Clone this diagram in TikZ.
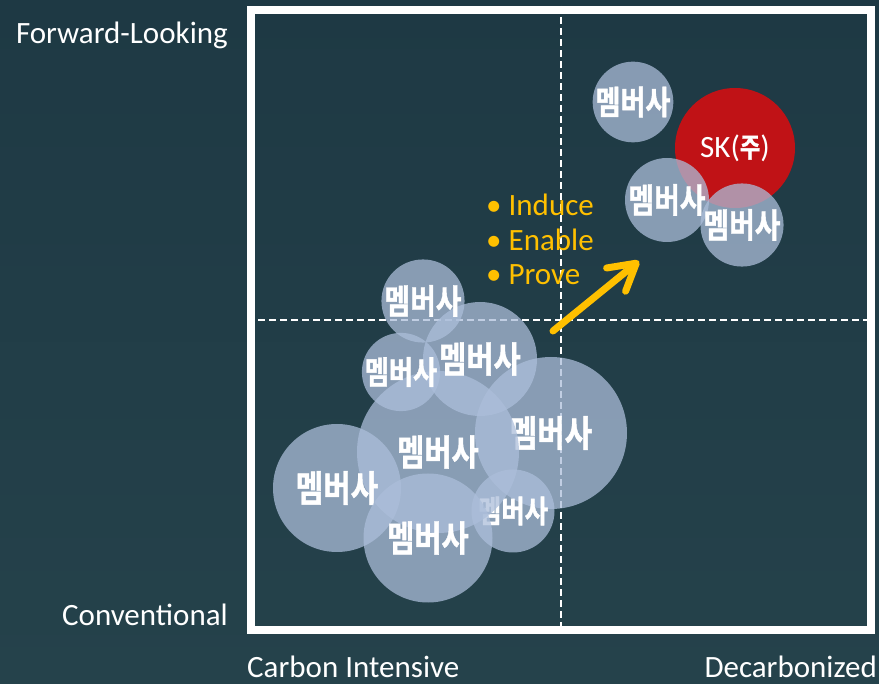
\documentclass[tikz,border=0pt]{standalone}
\usepackage{fontspec}
\setmainfont{Carlito}
\newfontfamily\krfont[FakeStretch=0.82, BoldFont={Noto Sans CJK KR Bold},
                      BoldFeatures={FakeBold=1.2}]{Noto Sans CJK KR}
\usetikzlibrary{arrows.meta}

\definecolor{bgtop}{RGB}{30,57,68}
\definecolor{bgmid}{RGB}{45,75,82}
\definecolor{bgbot}{RGB}{37,66,75}
\definecolor{bubblefill}{RGB}{172,190,218}
\definecolor{skred}{RGB}{192,18,22}
\definecolor{pptyellow}{RGB}{255,192,0}

\tikzset{member/.style 2 args = {circle, fill=bubblefill, fill opacity=0.74,
                                 text opacity=1, text=white, inner sep=0pt,
                                 minimum size=#1,
                                 font=\krfont\bfseries\fontsize{#2}{#2}\selectfont},
         axislabel/.style = {text=white, inner sep=0pt,
                             font=\fontsize{31}{31}\selectfont},
         bulletitem/.style = {text=pptyellow, inner sep=0pt, anchor=base west,
                              font=\fontsize{31}{31}\selectfont},
         quadline/.style = {white, line width=1.5pt, dash pattern=on 7pt off 4pt}
        }

\begin{document}
\begin{tikzpicture}[x=1pt, y=-1pt]
  \useasboundingbox (0,0) rectangle (879,684);
  \shade[top color=bgtop, middle color=bgmid, bottom color=bgbot] (0,0) rectangle (879,684);

  % frame and quadrants
  \node[draw=white, line width=8pt, minimum width=620pt, minimum height=620pt,
        inner sep=0pt] (frame) at (561,320) {};
  \draw[quadline] (frame.north) -- (frame.south);
  \draw[quadline] (frame.west) -- (frame.east);

  % axis labels
  \node[axislabel, anchor=base east] (fwd) at (228,44) {Forward-Looking};
  \node[axislabel, anchor=base east] (conv) at (228,625) {Conventional};
  \node[axislabel, anchor=base west] (carbon) at (247,677) {Carbon Intensive};
  \node[axislabel, anchor=base east] (decarb) at (877,677) {Decarbonized};

  % members
  \node[member={152pt}{36.5}] (m9) at (551,433) {멤버사};
  \node[member={83pt}{31}] (m12) at (513,511) {멤버사};
  \node[member={162pt}{36}] (m8) at (438,452) {멤버사};
  \node[member={114pt}{36}] (m6) at (480,359) {멤버사};
  \node[member={73pt}{32}] (m7) at (401,372) {멤버사};
  \node[member={128pt}{36.5}] (m10) at (337,488) {멤버사};
  \node[member={129pt}{36}] (m11) at (428,538) {멤버사};
  \node[member={83pt}{34}] (m5) at (423,301) {멤버사};

  \node[circle, fill=skred, text=white, inner sep=0pt, minimum size=120pt,
        font=\fontsize{31}{31}\selectfont] (sk) at (735,148)
        {SK({\krfont\bfseries\fontsize{27}{27}\selectfont 주})};
  \node[member={76pt}{33}] (m1) at (633,102) {멤버사};
  \node[member={84pt}{34}] (m3) at (667,200) {멤버사};
  \node[member={82pt}{34}] (m4) at (742,225) {멤버사};

  % levers
  \node[bulletitem] (induce) at (486,216) {\textbullet\ Induce};
  \node[bulletitem] (enable) at (486,251) {\textbullet\ Enable};
  \node[bulletitem] (prove) at (486,285) {\textbullet\ Prove};

  \coordinate (arrtail) at (553,331);
  \coordinate (arrtip) at (639,261);
  \draw[pptyellow, line width=7pt, line cap=round,
        -{Straight Barb[length=26pt, width=30pt, round]}] (arrtail) -- (arrtip);
\end{tikzpicture}
\end{document}
